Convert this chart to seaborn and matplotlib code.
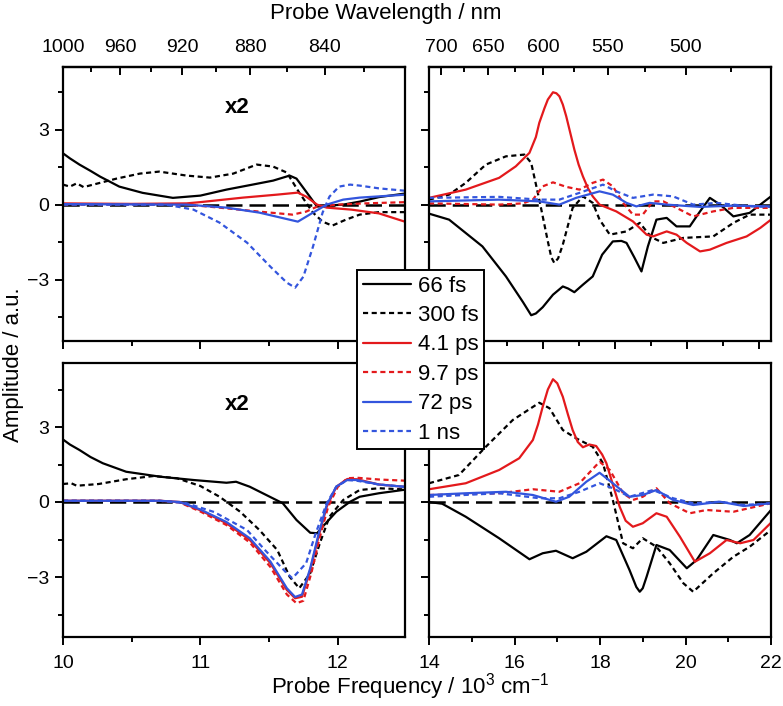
import matplotlib
matplotlib.use("Agg")
import matplotlib.pyplot as plt
import pandas as pd
import seaborn as sns

sns.set_style("ticks")
plt.rcParams["font.family"] = ["Liberation Sans", "DejaVu Sans"]
plt.rcParams["mathtext.fontset"] = "custom"
plt.rcParams["mathtext.rm"] = "Liberation Sans"
plt.rcParams["mathtext.default"] = "regular"
for key in ["axes.edgecolor", "text.color", "axes.labelcolor", "xtick.color", "ytick.color"]:
    plt.rcParams[key] = "black"

DELAYS = ["66 fs", "300 fs", "4.1 ps", "9.7 ps", "72 ps", "1 ns"]
COLORS = {"66 fs": "black", "300 fs": "black", "4.1 ps": "#e3191c",
          "9.7 ps": "#e3191c", "72 ps": "#3355dd", "1 ns": "#3355dd"}
DASHES = {"66 fs": "", "300 fs": (2.3, 1.6), "4.1 ps": "", "9.7 ps": (2.3, 1.6),
          "72 ps": "", "1 ns": (2.3, 1.6)}

# ---- top row, near-IR window (x2), (freq / 10^3 cm-1, amplitude) ----
top_nir_66fs = [(10.0, 2.05), (10.05, 1.85), (10.12, 1.6), (10.2, 1.35), (10.27, 1.12),
                (10.41, 0.72), (10.58, 0.47), (10.8, 0.27), (11.0, 0.36), (11.19, 0.6),
                (11.38, 0.8), (11.53, 0.96), (11.65, 1.16), (11.7, 1.04), (11.77, 0.52),
                (11.85, -0.08), (11.92, -0.04), (12.04, 0.0), (12.16, 0.12), (12.3, 0.3),
                (12.5, 0.45)]
top_nir_300fs = [(10.0, 0.8), (10.05, 0.72), (10.1, 0.85), (10.15, 0.7), (10.22, 0.8),
                 (10.39, 1.04), (10.56, 1.24), (10.7, 1.32), (10.9, 1.16), (11.07, 1.08),
                 (11.24, 1.24), (11.41, 1.6), (11.53, 1.52), (11.63, 1.28), (11.72, 0.48),
                 (11.82, -0.32), (11.89, -0.68), (11.96, -0.84), (12.06, -0.6),
                 (12.16, -0.4), (12.3, -0.3), (12.5, -0.3)]
top_nir_4p1ps = [(10.0, 0.05), (10.5, 0.03), (10.9, 0.05), (11.0, 0.1), (11.31, 0.28),
                 (11.56, 0.4), (11.71, 0.48), (11.77, 0.32), (11.85, 0.0), (11.92, -0.12),
                 (12.1, -0.2), (12.3, -0.35), (12.5, -0.7)]
top_nir_9p7ps = [(10.0, 0.0), (10.9, 0.0), (11.1, -0.1), (11.43, -0.28), (11.67, -0.4),
                 (11.77, -0.28), (11.85, -0.08), (12.0, 0.0), (12.2, 0.05), (12.5, 0.1)]
top_nir_72ps = [(10.0, 0.02), (10.9, 0.0), (11.19, -0.12), (11.43, -0.32), (11.71, -0.68),
                (11.82, -0.32), (11.92, 0.0), (12.04, 0.2), (12.16, 0.28), (12.5, 0.4)]
top_nir_1ns = [(10.0, 0.0), (10.75, 0.0), (10.95, -0.2), (11.14, -0.72), (11.34, -1.52),
               (11.51, -2.48), (11.63, -3.12), (11.69, -3.32), (11.75, -2.88),
               (11.82, -1.68), (11.89, -0.32), (11.94, 0.32), (12.01, 0.72), (12.09, 0.8),
               (12.16, 0.76), (12.3, 0.65), (12.5, 0.55)]

# ---- top row, visible window ----
top_vis_66fs = [(14.0, -0.36), (14.47, -0.6), (15.25, -1.67), (15.8, -2.87), (16.2, -3.9),
                (16.39, -4.42), (16.5, -4.35), (16.66, -4.1), (16.9, -3.6), (17.13, -3.27),
                (17.25, -3.35), (17.4, -3.5), (17.6, -3.2), (17.83, -2.87), (18.05, -2.0),
                (18.3, -1.47), (18.5, -1.45), (18.62, -1.53), (18.8, -2.1), (18.97, -2.67),
                (19.12, -1.67), (19.32, -0.6), (19.56, -0.53), (19.79, -0.87),
                (20.1, -0.87), (20.34, -0.27), (20.57, 0.27), (20.81, 0.0), (21.12, -0.47),
                (21.5, -0.33), (21.75, 0.0), (22.0, 0.33)]
top_vis_300fs = [(14.0, 0.2), (14.47, 0.4), (14.86, 0.87), (15.33, 1.6), (15.8, 1.93),
                 (16.23, 2.0), (16.39, 1.67), (16.58, 0.2), (16.78, -1.47), (16.86, -2.1),
                 (16.93, -2.33), (17.02, -2.15), (17.13, -1.6), (17.36, -0.13), (17.6, 0.33),
                 (17.83, 0.07), (17.99, -0.6), (18.23, -1.2), (18.62, -1.07),
                 (18.93, -0.73), (19.2, -1.3), (19.48, -1.53), (19.95, -1.33),
                 (20.65, -1.27), (21.12, -0.73), (21.5, -0.4), (22.0, -0.4)]
top_vis_4p1ps = [(14.0, 0.27), (14.86, 0.6), (15.64, 1.07), (16.03, 1.53), (16.35, 2.07),
                 (16.5, 2.7), (16.58, 3.27), (16.7, 3.85), (16.78, 4.2), (16.9, 4.49),
                 (16.98, 4.45), (17.05, 4.33), (17.13, 4.0), (17.21, 3.53), (17.3, 2.9),
                 (17.4, 2.2), (17.5, 1.6), (17.6, 1.13), (17.72, 0.65), (17.83, 0.33),
                 (17.99, 0.0), (18.38, -0.27), (18.77, -0.67), (19.09, -1.2),
                 (19.24, -1.27), (19.56, -1.07), (19.79, -1.2), (20.03, -1.53),
                 (20.34, -1.87), (20.57, -1.8), (20.96, -1.53), (21.43, -1.27),
                 (21.75, -0.93), (22.0, -0.6)]
top_vis_9p7ps = [(14.0, 0.05), (15.64, 0.0), (16.2, 0.05), (16.43, 0.2), (16.66, 0.73),
                 (16.9, 0.89), (17.21, 0.71), (17.52, 0.6), (17.83, 0.87), (18.07, 1.0),
                 (18.3, 0.73), (18.54, 0.07), (18.77, -0.4), (19.0, -0.4), (19.24, 0.13),
                 (19.48, 0.13), (19.79, -0.13), (20.18, -0.47), (20.65, -0.27),
                 (21.12, -0.13), (22.0, -0.13)]
top_vis_72ps = [(14.0, 0.13), (15.64, 0.2), (16.58, 0.13), (17.05, 0.0), (17.44, 0.27),
                (17.99, 0.53), (18.3, 0.4), (18.62, 0.07), (18.85, -0.07), (19.16, 0.07),
                (19.56, 0.0), (20.34, -0.09), (21.12, -0.04), (22.0, -0.07)]
top_vis_1ns = [(14.0, 0.27), (15.64, 0.31), (16.58, 0.2), (17.05, 0.2), (17.52, 0.47),
               (18.07, 0.8), (18.38, 0.53), (18.77, 0.27), (19.24, 0.4), (19.71, 0.33),
               (20.18, 0.0), (20.73, 0.07), (21.5, -0.07), (22.0, -0.09)]

# ---- bottom row, near-IR window (x2) ----
bot_nir_66fs = [(10.0, 2.5), (10.05, 2.3), (10.12, 2.08), (10.2, 1.8), (10.29, 1.55),
                (10.46, 1.21), (10.71, 1.01), (10.95, 0.88), (11.19, 0.77), (11.26, 0.81),
                (11.36, 0.61), (11.48, 0.28), (11.6, -0.05), (11.7, -0.72), (11.8, -1.23),
                (11.85, -1.25), (11.89, -0.99), (11.99, -0.39), (12.09, 0.01),
                (12.16, 0.21), (12.3, 0.35), (12.5, 0.5)]
bot_nir_300fs = [(10.0, 0.72), (10.06, 0.75), (10.1, 0.65), (10.26, 0.72), (10.46, 0.91),
                 (10.66, 1.04), (10.83, 0.95), (11.0, 0.64), (11.14, 0.21), (11.29, -0.39),
                 (11.43, -1.12), (11.56, -1.92), (11.65, -2.99), (11.72, -3.45),
                 (11.8, -2.85), (11.87, -1.65), (11.94, -0.59), (12.04, 0.08),
                 (12.16, 0.48), (12.3, 0.55), (12.5, 0.5)]
bot_nir_4p1ps = [(10.0, 0.05), (10.7, 0.05), (10.85, 0.0), (11.0, -0.33), (11.19, -0.85),
                 (11.36, -1.52), (11.51, -2.45), (11.63, -3.52), (11.69, -3.85),
                 (11.74, -3.79), (11.8, -2.72), (11.86, -1.39), (11.92, -0.19),
                 (11.99, 0.61), (12.07, 0.92), (12.14, 0.91), (12.3, 0.7), (12.5, 0.6)]
bot_nir_9p7ps = [(10.0, 0.05), (10.7, 0.05), (10.85, -0.02), (11.0, -0.38), (11.19, -0.92),
                 (11.36, -1.62), (11.51, -2.6), (11.63, -3.7), (11.7, -4.05),
                 (11.75, -3.95), (11.81, -2.8), (11.87, -1.4), (11.93, -0.2), (12.0, 0.6),
                 (12.07, 0.95), (12.14, 0.97), (12.3, 0.9), (12.5, 0.85)]
bot_nir_72ps = [(10.0, 0.05), (10.7, 0.05), (10.85, 0.0), (11.0, -0.3), (11.19, -0.8),
                (11.36, -1.45), (11.51, -2.38), (11.63, -3.45), (11.69, -3.8),
                (11.74, -3.7), (11.8, -2.65), (11.86, -1.3), (11.92, -0.12), (11.99, 0.62),
                (12.07, 0.88), (12.14, 0.88), (12.3, 0.7), (12.5, 0.6)]
bot_nir_1ns = [(10.0, 0.05), (10.7, 0.05), (10.9, -0.05), (11.1, -0.4), (11.34, -1.12),
               (11.47, -1.92), (11.63, -2.85), (11.67, -3.05), (11.77, -2.45),
               (11.84, -1.25), (11.92, -0.05), (11.99, 0.61), (12.07, 0.88), (12.14, 0.85),
               (12.3, 0.7), (12.5, 0.6)]

# ---- bottom row, visible window ----
bot_vis_66fs = [(14.0, 0.0), (14.31, -0.07), (14.86, -0.59), (15.64, -1.45), (16.35, -2.29),
                (16.66, -2.05), (16.97, -1.95), (17.36, -2.25), (17.68, -1.99),
                (18.15, -1.37), (18.38, -1.52), (18.69, -2.72), (18.85, -3.4),
                (18.93, -3.59), (19.0, -3.45), (19.09, -2.99), (19.32, -1.72),
                (19.63, -1.92), (20.03, -2.65), (20.26, -2.32), (20.65, -1.32),
                (21.04, -1.52), (21.2, -1.65), (21.5, -1.32), (22.0, -0.32)]
bot_vis_300fs = [(14.0, 0.75), (14.7, 1.08), (15.33, 2.21), (15.96, 3.28), (16.58, 3.97),
                 (16.82, 3.75), (17.13, 2.88), (17.44, 2.55), (17.83, 2.21), (18.07, 1.55),
                 (18.3, 0.08), (18.54, -1.65), (18.77, -1.85), (19.0, -1.45),
                 (19.32, -1.79), (19.63, -2.45), (19.95, -3.25), (20.18, -3.59),
                 (20.65, -2.85), (21.12, -2.19), (21.5, -1.79), (22.0, -1.12)]
bot_vis_4p1ps = [(14.0, 0.51), (14.86, 0.75), (15.64, 1.28), (16.11, 1.75), (16.43, 2.48),
                 (16.55, 3.1), (16.66, 3.81), (16.78, 4.5), (16.9, 4.91), (17.0, 4.75),
                 (17.13, 4.21), (17.25, 3.5), (17.36, 2.88), (17.48, 2.4), (17.6, 2.19),
                 (17.75, 2.3), (17.91, 2.24), (18.05, 1.9), (18.15, 1.55), (18.3, 0.7),
                 (18.46, -0.19), (18.6, -0.75), (18.77, -0.99), (19.0, -0.85),
                 (19.32, -0.45), (19.56, -0.59), (19.87, -1.39), (20.22, -2.39),
                 (20.57, -2.05), (20.96, -1.52), (21.28, -1.65), (21.59, -1.52),
                 (22.0, -0.83)]
bot_vis_9p7ps = [(14.0, 0.28), (15.64, 0.35), (16.43, 0.51), (17.05, 0.41), (17.52, 0.75),
                 (17.99, 1.61), (18.23, 1.28), (18.54, 0.35), (18.77, 0.08), (19.0, 0.21),
                 (19.32, 0.55), (19.63, -0.05), (20.1, -0.45), (20.49, -0.32),
                 (21.12, -0.39), (22.0, -0.05)]
bot_vis_72ps = [(14.0, 0.28), (14.86, 0.35), (15.8, 0.41), (16.43, 0.28), (16.97, 0.01),
                (17.28, 0.21), (17.68, 0.81), (17.99, 1.17), (18.3, 0.75), (18.69, 0.21),
                (19.0, 0.28), (19.32, 0.48), (19.71, 0.08), (20.18, -0.12), (20.81, 0.01),
                (21.36, -0.16), (22.0, -0.05)]
bot_vis_1ns = [(14.0, 0.21), (15.64, 0.35), (16.58, 0.15), (17.05, 0.15), (17.52, 0.41),
               (17.99, 0.75), (18.3, 0.55), (18.69, 0.21), (19.24, 0.48), (19.71, 0.15),
               (20.18, -0.05), (20.81, 0.01), (21.36, -0.12), (22.0, -0.05)]

NIR_NM_MAJOR = [1000, 960, 920, 880, 840]
NIR_NM_MINOR = [980, 940, 900, 860, 820]
VIS_NM_MAJOR = [700, 650, 600, 550, 500]
VIS_NM_MINOR = [675, 625, 575, 525, 475]


def to_frame(curves):
    rows = []
    for delay, pts in zip(DELAYS, curves):
        for f, a in pts:
            rows.append((f, a, delay))
    return pd.DataFrame(rows, columns=["freq", "amp", "delay"])


def nm(x):
    return 1e4 / x


fig = plt.figure(figsize=(7.83, 7.06), dpi=100)
W, H = 783, 706
TICK = dict(width=1.4, labelsize=14, color="black")


def make_ax(x0, y0, x1, y1):
    return fig.add_axes([x0 / W, 1 - y1 / H, (x1 - x0) / W, (y1 - y0) / H])


panels = {
    "top_nir": (make_ax(63, 67, 405, 341), [top_nir_66fs, top_nir_300fs, top_nir_4p1ps,
                                            top_nir_9p7ps, top_nir_72ps, top_nir_1ns]),
    "top_vis": (make_ax(429, 67, 771, 341), [top_vis_66fs, top_vis_300fs, top_vis_4p1ps,
                                             top_vis_9p7ps, top_vis_72ps, top_vis_1ns]),
    "bot_nir": (make_ax(63, 363, 405, 637), [bot_nir_66fs, bot_nir_300fs, bot_nir_4p1ps,
                                             bot_nir_9p7ps, bot_nir_72ps, bot_nir_1ns]),
    "bot_vis": (make_ax(429, 363, 771, 637), [bot_vis_66fs, bot_vis_300fs, bot_vis_4p1ps,
                                              bot_vis_9p7ps, bot_vis_72ps, bot_vis_1ns]),
}

handles, labels = None, None
for name, (ax, curves) in panels.items():
    df = to_frame(curves)
    ax.axhline(0, color="black", lw=1.8, ls=(0, (6.5, 2.8)), zorder=1)
    sns.lineplot(data=df, x="freq", y="amp", hue="delay", style="delay",
                 hue_order=DELAYS, style_order=DELAYS, palette=COLORS, dashes=DASHES,
                 sort=False, estimator=None, lw=1.6, ax=ax, legend=(name == "top_nir"),
                 zorder=2)
    if name == "top_nir":
        handles, labels = ax.get_legend_handles_labels()
        ax.get_legend().remove()

    nir = name.endswith("nir")
    top = name.startswith("top")
    ax.set_xlim((10, 12.49) if nir else (14, 22))
    ax.set_ylim((-5.45, 5.5) if top else (-5.4, 5.56))
    ax.set_xlabel("")
    ax.set_ylabel("")
    for sp in ax.spines.values():
        sp.set_visible(True)
        sp.set_linewidth(1.6)
        sp.set_color("black")

    ax.set_yticks([-3, 0, 3])
    ax.set_yticks([-4.5, -1.5, 1.5, 4.5], minor=True)
    ax.tick_params(which="major", direction="out", length=6, pad=4, **TICK)
    ax.tick_params(which="minor", direction="out", length=3.5, width=1.4, color="black")
    ax.tick_params(which="both", top=False, right=False)
    if not nir:
        ax.tick_params(axis="y", labelleft=False)

    if nir:
        ax.set_xticks([10, 11, 12])
        ax.set_xticks([10.5, 11.5], minor=True)
        ax.text(11.27, 3.9, "x2", fontsize=16, fontweight="bold", ha="center", va="center")
    elif top:
        ax.set_xticks([15.0, 16.67, 18.35, 20.03, 21.71])
        ax.set_xticks([14.16, 15.83, 17.51, 19.19, 20.87], minor=True)
    else:
        ax.set_xticks([14, 16, 18, 20, 22])
        ax.set_xticks([15, 17, 19, 21], minor=True)
    ax.tick_params(axis="x", which="major", pad=7)
    if top:
        ax.tick_params(axis="x", labelbottom=False)
        sec = ax.secondary_xaxis("top", functions=(nm, nm))
        sec.set_xticks(NIR_NM_MAJOR if nir else VIS_NM_MAJOR)
        sec.set_xticks(NIR_NM_MINOR if nir else VIS_NM_MINOR, minor=True)
        sec.tick_params(which="major", direction="in", length=6, pad=8, **TICK)
        sec.tick_params(which="minor", direction="in", length=3.5, width=1.4, color="black")
        sec.spines["top"].set_linewidth(1.6)
        sec.spines["top"].set_color("black")

for h in handles:
    h.set_linewidth(1.6)
leg = fig.legend(handles, labels, loc="upper left", bbox_to_anchor=(357 / W, 1 - 270 / H),
                 fontsize=16, frameon=True, fancybox=False, framealpha=1,
                 edgecolor="black", handlelength=2.2, handletextpad=0.3,
                 labelspacing=0.38, borderpad=0.25, borderaxespad=0)
leg.get_frame().set_linewidth(1.4)

fig.text(386 / W, 1 - 14 / H, "Probe Wavelength / nm", fontsize=16, ha="center", va="center")
fig.text(410 / W, 1 - 687 / H, r"Probe Frequency / 10$^{3}$ cm$^{-1}$", fontsize=16,
         ha="center", va="center")
fig.text(14 / W, 1 - 365 / H, "Amplitude / a.u.", fontsize=16, rotation=90,
         ha="center", va="center")

fig.savefig("out.png", dpi=100)
